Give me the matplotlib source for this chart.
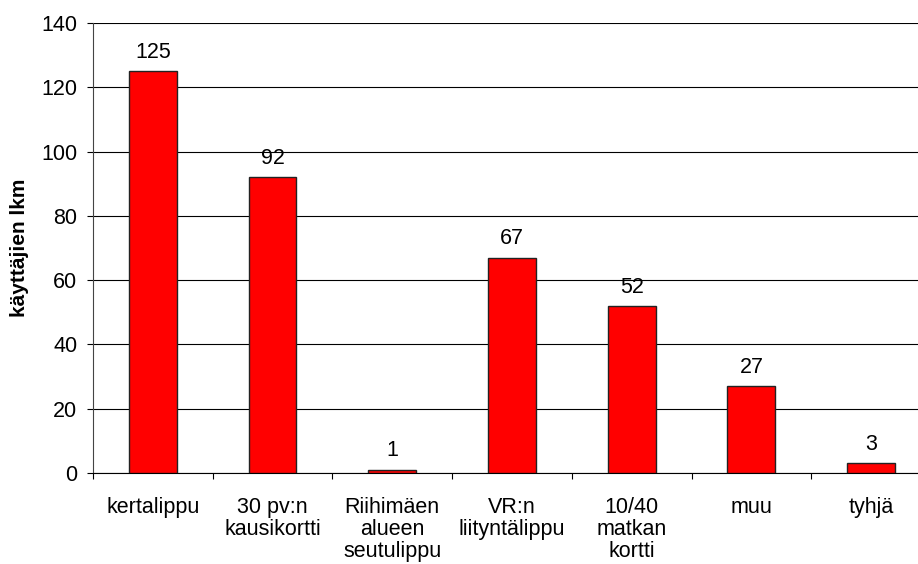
import numpy as np
import matplotlib.pyplot as plt
from matplotlib.ticker import FixedLocator

plt.rcParams['font.family'] = ['Liberation Sans', 'DejaVu Sans']

categories = ['kertalippu', '30 pv:n\nkausikortti', 'Riihimäen\nalueen\nseutulippu',
              'VR:n\nliityntälippu', '10/40\nmatkan\nkortti', 'muu', 'tyhjä']
counts = [125, 92, 1, 67, 52, 27, 3]
yticks = [0, 20, 40, 60, 80, 100, 120, 140]

FS = 15.5

fig = plt.figure(figsize=(9.18, 5.64), dpi=100)
ax = fig.add_axes([0.1013, 0.1613, 0.9128, 0.7979])
ax_w = 0.9128 * 918

x = np.arange(len(categories))
bars = ax.bar(x, counts, width=0.4, color='#ff0000', edgecolor='#222222', linewidth=1.0, zorder=3)

for b, v in zip(bars, counts):
    ax.annotate(str(v), (b.get_x() + b.get_width() / 2, v), xytext=(0, 6),
                textcoords='offset points', ha='center', va='bottom', fontsize=FS)

ax.set_xlim(-0.5, len(categories) - 0.5)
ax.set_ylim(0, 140)
ax.set_yticks(yticks)
ax.yaxis.grid(True, color='black', linewidth=0.8, zorder=0)
ax.tick_params(axis='y', direction='out', length=4.3, width=0.8, labelsize=FS, pad=7)

ax.set_xticks(x)
ax.set_xticklabels(categories, fontsize=FS, linespacing=1.08)
ax.xaxis.set_minor_locator(FixedLocator(np.arange(len(categories) + 1) - 0.5))
ax.tick_params(axis='x', which='major', length=0, pad=17)
ax.tick_params(axis='x', which='minor', direction='out', length=4.3, width=0.8)

for s in ['top', 'right']:
    ax.spines[s].set_visible(False)
ax.spines['left'].set_color('#444444')
ax.spines['bottom'].set_color('black')

# y label placed a few pixels in from the left border
ax.set_ylabel('käyttäjien lkm', fontsize=15, fontweight='bold')
ax.yaxis.set_label_coords((29 - 93) / ax_w, 0.5)

fig.savefig('out.png', dpi=100)
